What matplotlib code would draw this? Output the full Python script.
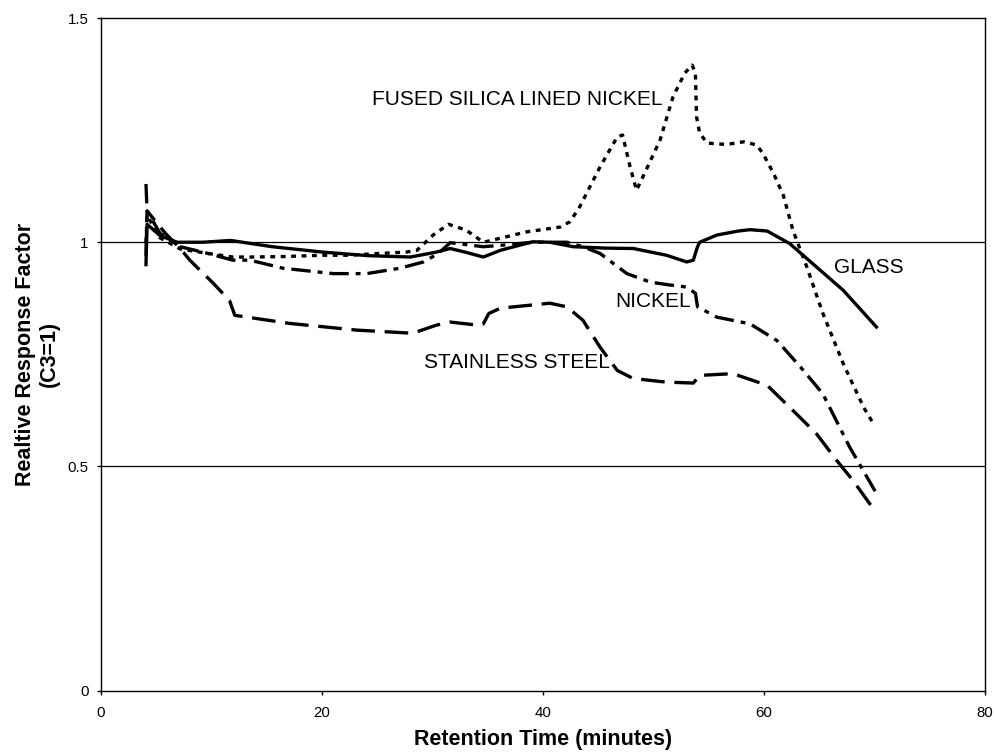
import matplotlib
matplotlib.use('Agg')
import matplotlib.pyplot as plt

plt.rcParams['font.family'] = ['Liberation Sans', 'DejaVu Sans']
plt.rcParams['lines.scale_dashes'] = False

# ------------------------------------------------------------
# data
# ------------------------------------------------------------
glass_x = [4.07, 4.17, 5.33, 6.88, 9.21, 11.73, 15.5, 20.06, 24.23, 28.01,
           30.34, 31.6, 32.95, 34.6, 36.15, 39.06, 40.61, 42.74, 45.55, 48.17,
           51.17, 53.01, 53.6, 53.98, 54.18, 55.73, 57.67, 58.73, 60.28, 62.32,
           64.74, 67.16, 70.17]
glass_y = [0.95, 1.04, 1.015, 1.0, 1.0, 1.004, 0.99, 0.978, 0.97, 0.967,
           0.978, 0.986, 0.978, 0.967, 0.982, 1.001, 1.0, 0.99, 0.987, 0.986,
           0.971, 0.956, 0.96, 0.99, 1.0, 1.016, 1.025, 1.028, 1.025, 0.997,
           0.945, 0.893, 0.811]

fused_x = [4.07, 4.17, 5.33, 7.17, 9.69, 11.92, 13.47, 16.48, 20.06, 22.49,
           25.2, 27.62, 28.59, 30.05, 31.45, 33.05, 34.6, 36.15, 38.48, 41.58,
           42.45, 43.32, 45.16, 46.72, 47.2, 47.88, 48.46, 49.33, 50.59, 51.76,
           52.82, 53.5, 53.79, 53.89, 54.18, 54.86, 56.6, 58.15, 59.32, 59.9,
           60.87, 61.74, 62.61, 63.87, 65.33, 67.17, 69.01, 69.88]
fused_y = [1.0, 1.06, 1.01, 0.985, 0.975, 0.967, 0.967, 0.968, 0.971, 0.971,
           0.975, 0.978, 0.982, 1.016, 1.04, 1.027, 1.0, 1.009, 1.023, 1.034,
           1.046, 1.079, 1.168, 1.235, 1.239, 1.168, 1.116, 1.161, 1.228, 1.324,
           1.377, 1.395, 1.377, 1.28, 1.243, 1.221, 1.218, 1.224, 1.217, 1.198,
           1.153, 1.105, 1.027, 0.945, 0.841, 0.729, 0.632, 0.596]

nickel_x = [4.07, 4.17, 5.33, 7.17, 9.69, 11.92, 13.47, 16.48, 21.03, 24.04,
            27.04, 29.17, 30.53, 31.6, 32.95, 34.6, 36.15, 39.06, 42.16, 43.61,
            45.16, 47.59, 49.72, 51.37, 53.01, 53.79, 53.98, 55.73, 58.73, 61.16,
            63.29, 65.32, 67.75, 70.17]
nickel_y = [1.13, 1.07, 1.02, 0.99, 0.975, 0.96, 0.96, 0.942, 0.93, 0.93,
            0.942, 0.956, 0.975, 0.999, 0.995, 0.99, 0.993, 1.0, 1.0, 0.99,
            0.975, 0.93, 0.911, 0.905, 0.9, 0.886, 0.856, 0.833, 0.818, 0.781,
            0.722, 0.662, 0.543, 0.44]

steel_x = [4.07, 4.17, 5.82, 7.17, 8.04, 10.18, 11.63, 12.11, 17.06, 23.16,
           28.2, 30.34, 31.6, 34.12, 34.6, 35.09, 36.15, 40.61, 42.16, 43.61,
           45.16, 46.72, 48.17, 51.17, 53.6, 54.18, 57.18, 60.28, 62.32, 64.74,
           66.59, 68.04, 69.88]
steel_y = [0.97, 1.07, 1.02, 0.986, 0.96, 0.908, 0.87, 0.837, 0.819, 0.804,
           0.797, 0.815, 0.822, 0.815, 0.818, 0.841, 0.853, 0.864, 0.856, 0.826,
           0.766, 0.714, 0.696, 0.688, 0.686, 0.703, 0.707, 0.681, 0.632, 0.573,
           0.513, 0.469, 0.406]

x_ticks = [0, 20, 40, 60, 80]
y_ticks = [0, 0.5, 1, 1.5]
y_tick_labels = ['0', '0.5', '1', '1.5']

# ------------------------------------------------------------
# plot
# ------------------------------------------------------------
fig = plt.figure(figsize=(9.95, 7.54), dpi=100)
ax = fig.add_axes([0.1015, 0.084, 0.8885, 0.8921])

lw = 2.4
ax.plot(glass_x, glass_y, color='black', lw=lw, solid_joinstyle='round')
ax.plot(fused_x, fused_y, color='black', lw=lw, dashes=(3.5, 4))
ax.plot(nickel_x, nickel_y, color='black', lw=lw, dashes=(14, 5, 3.5, 5))
ax.plot(steel_x, steel_y, color='black', lw=lw, dashes=(17, 7))

# horizontal gridlines (Excel style)
for yv in [0.5, 1.0]:
    ax.axhline(yv, color='black', lw=0.9, zorder=0)

ax.set_xlim(0, 80)
ax.set_ylim(0, 1.5)
ax.set_xticks(x_ticks)
ax.set_yticks(y_ticks)
ax.set_yticklabels(y_tick_labels)
ax.tick_params(direction='out', length=3, width=1, labelsize=10.8)
ax.tick_params(axis='x', pad=8)
ax.tick_params(axis='y', pad=6)

for sp in ax.spines.values():
    sp.set_linewidth(1)

ax.set_xlabel('Retention Time (minutes)', fontsize=15.5, fontweight='bold')
ax.set_ylabel('Realtive Response Factor\n(C3=1)', fontsize=15.5,
              fontweight='bold', multialignment='center')
ax.xaxis.set_label_coords(0.5, -0.057)
ax.yaxis.set_label_coords(-0.046, 0.5)

# curve labels
lab_fs = 15
ax.text(24.5, 1.306, 'FUSED SILICA LINED NICKEL', fontsize=lab_fs, va='baseline')
ax.text(66.3, 0.931, 'GLASS', fontsize=lab_fs, va='baseline')
ax.text(46.5, 0.856, 'NICKEL', fontsize=lab_fs, va='baseline')
ax.text(29.2, 0.719, 'STAINLESS STEEL', fontsize=lab_fs, va='baseline')

fig.savefig('out.png', dpi=100)
